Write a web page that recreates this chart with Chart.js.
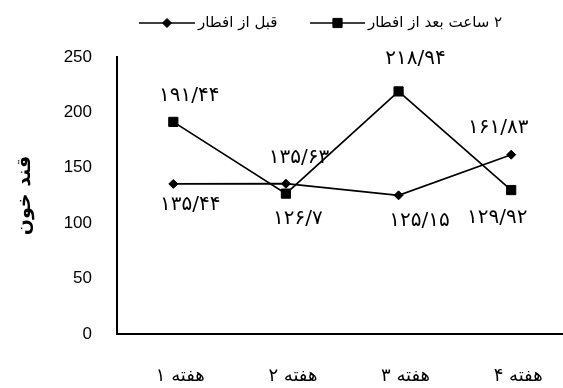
<!DOCTYPE html>
<html>
<head>
<meta charset="utf-8">
<script src="https://cdn.jsdelivr.net/npm/chart.js@4/dist/chart.umd.min.js"></script>
<style>
html,body{margin:0;padding:0;background:#fff;overflow:hidden;}
#wrap{width:575px;height:388px;}
</style>
</head>
<body>
<div id="wrap"><canvas id="c" width="575" height="388"></canvas></div>
<script>
// ---- data ----
const categories = ["هفته ۱", "هفته ۲", "هفته ۳", "هفته ۴"];
const beforeIftar = [135.44, 135.63, 125.15, 161.83];
const afterIftar2h = [191.44, 126.7, 218.94, 129.92];
const seriesNames = ["قبل از افطار", "۲ ساعت بعد از افطار"];
const yTicks = [0, 50, 100, 150, 200, 250];
const yTitle = "قند خون";

// label placement (style only): [dx, dy] offsets of label centre from point
const labelOffsets = [
  [[17, 21], [13, -26], [21, 25], [-13, -27]],
  [[16, -26], [12, 25], [17, -33], [-14, 28]]
];

const faDigits = "۰۱۲۳۴۵۶۷۸۹";
function toFa(v) {
  return String(v).replace(/[0-9]/g, d => faDigits[+d]).replace(".", "/");
}

const labelPlugin = {
  id: "valueLabels",
  afterDatasetsDraw(chart) {
    const ctx = chart.ctx;
    ctx.save();
    ctx.font = "20px 'DejaVu Sans'";
    ctx.fillStyle = "#000";
    ctx.textAlign = "center";
    ctx.textBaseline = "middle";
    chart.data.datasets.forEach((ds, di) => {
      const meta = chart.getDatasetMeta(di);
      meta.data.forEach((pt, i) => {
        const off = labelOffsets[di][i];
        ctx.fillText(toFa(ds.data[i]), pt.x + off[0], pt.y + off[1]);
      });
    });
    ctx.restore();
  }
};

const legendPlugin = {
  id: "lineLegend",
  afterDraw(chart) {
    const ctx = chart.ctx;
    ctx.save();
    ctx.font = "15px 'DejaVu Sans'";
    ctx.textBaseline = "middle";
    ctx.direction = "rtl";
    ctx.textAlign = "left";
    const y = 23;
    const items = [
      {x0: 139, x1: 195, style: "rectRot", r: 4.5, tx: 198},
      {x0: 310, x1: 365, style: "rect", r: 6.5, tx: 368}
    ];
    items.forEach((it, i) => {
      ctx.strokeStyle = "#000";
      ctx.lineWidth = 1.6;
      ctx.beginPath();
      ctx.moveTo(it.x0, y); ctx.lineTo(it.x1, y); ctx.stroke();
      ctx.fillStyle = "#000";
      ctx.lineWidth = 1;
      Chart.helpers.drawPoint(ctx, {pointStyle: it.style, radius: it.r, borderWidth: 1, rotation: 0}, (it.x0 + it.x1) / 2, y);
      ctx.fillStyle = "#000";
      ctx.fillText(chart.data.datasets[i].label, it.tx, y);
    });
    ctx.restore();
  }
};

new Chart(document.getElementById("c"), {
  type: "line",
  data: {
    labels: categories,
    datasets: [
      {
        label: seriesNames[0],
        data: beforeIftar,
        borderColor: "#000",
        backgroundColor: "#000",
        borderWidth: 1.7,
        pointStyle: "rectRot",
        pointRadius: 4.5,
        pointBorderWidth: 1,
        tension: 0
      },
      {
        label: seriesNames[1],
        data: afterIftar2h,
        borderColor: "#000",
        backgroundColor: "#000",
        borderWidth: 1.7,
        pointStyle: "rect",
        pointRadius: 6.5,
        pointBorderWidth: 1,
        tension: 0
      }
    ]
  },
  options: {
    responsive: false,
    animation: false,
    layout: {padding: {top: 57, left: 0, right: 0, bottom: 0}},
    plugins: {legend: {display: false}, tooltip: {enabled: false}},
    scales: {
      x: {
        offset: true,
        grid: {display: false, drawTicks: false},
        border: {display: true, color: "#000", width: 2},
        ticks: {color: "#000", font: {family: "'DejaVu Sans'", size: 18}, padding: 32, labelOffset: 7, maxRotation: 0},
        afterFit(s) { s.height = 54; }
      },
      y: {
        min: 0, max: 250,
        grid: {display: false, drawTicks: false},
        border: {display: true, color: "#000", width: 2},
        afterBuildTicks(s) { s.ticks = yTicks.map(v => ({value: v})); },
        ticks: {color: "#000", font: {family: "'Liberation Sans', Arial", size: 17}, padding: 25},
        title: {display: true, text: yTitle, color: "#000", font: {family: "'DejaVu Sans'", size: 19, weight: "bold"}, padding: {top: 14, bottom: 0}},
        afterFit(s) { s.width = 117; }
      }
    }
  },
  plugins: [labelPlugin, legendPlugin]
});
</script>
</body>
</html>
